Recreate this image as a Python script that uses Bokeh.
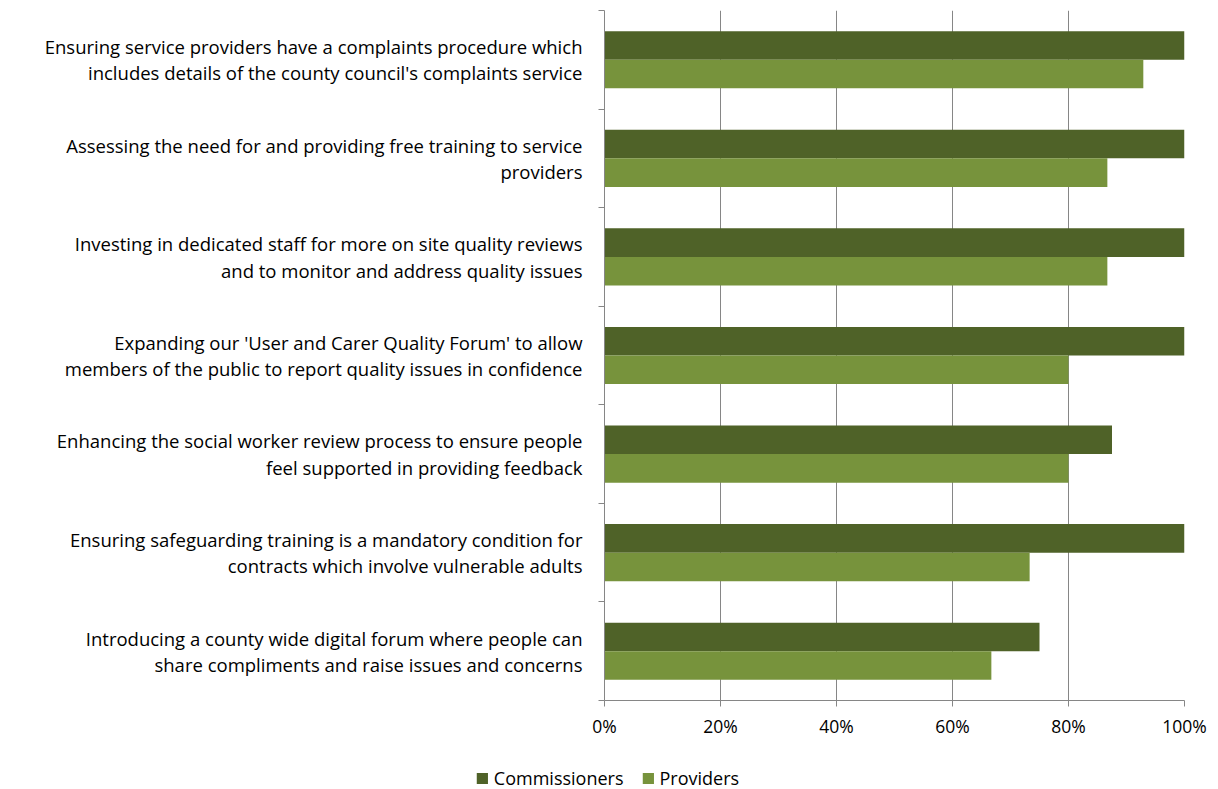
from bokeh.plotting import figure
from bokeh.models import (ColumnDataSource, Range1d, FixedTicker, NumeralTickFormatter,
                          LinearAxis, Legend, LegendItem)
from bokeh.layouts import column, row
from bokeh.transform import dodge
from bokeh.embed import file_html
from bokeh.resources import INLINE

categories = [
    "Ensuring service providers have a complaints procedure which\nincludes details of the county council's complaints service",
    "Assessing the need for and providing free training to service\nproviders",
    "Investing in dedicated staff for more on site quality reviews\nand to monitor and address quality issues",
    "Expanding our 'User and Carer Quality Forum' to allow\nmembers of the public to report quality issues in confidence",
    "Enhancing the social worker review process to ensure people\nfeel supported in providing feedback",
    "Ensuring safeguarding training is a mandatory condition for\ncontracts which involve vulnerable adults",
    "Introducing a county wide digital forum where people can\nshare compliments and raise issues and concerns",
]
commissioners = [1.0, 1.0, 1.0, 1.0, 0.875, 1.0, 0.75]
providers = [0.929, 0.867, 0.867, 0.80, 0.80, 0.733, 0.667]
x_ticks = [0, 0.2, 0.4, 0.6, 0.8, 1.0]
series_names = ["Commissioners", "Providers"]

FONT = "Open Sans"
DARK = "#4F6228"
LIGHT = "#77933C"
GRID = "#868686"

n = len(categories)
pos = [n - i - 0.5 for i in range(n)]
src = ColumnDataSource(dict(y=pos, c=commissioners, p=providers))

p = figure(frame_width=580, frame_height=690, output_backend="svg", toolbar_location=None,
           x_range=Range1d(0, 1), y_range=Range1d(0, n),
           min_border_left=604, min_border_right=30, min_border_top=10, min_border_bottom=0)
p.outline_line_color = None
p.background_fill_color = "white"

p.hbar(y=dodge("y", 0.145, range=p.y_range), left=0, right="c", height=0.29,
       source=src, fill_color=DARK, line_color=None)
p.hbar(y=dodge("y", -0.145, range=p.y_range), left=0, right="p", height=0.29,
       source=src, fill_color=LIGHT, line_color=None)

p.xaxis.ticker = FixedTicker(ticks=x_ticks)
p.xaxis.formatter = NumeralTickFormatter(format="0%")
p.xaxis.axis_line_color = GRID
p.xaxis.major_tick_line_color = GRID
p.xaxis.major_tick_out = 6
p.xaxis.major_tick_in = 0
p.xaxis.minor_tick_line_color = None
p.xaxis.major_label_text_font = FONT
p.xaxis.major_label_text_font_size = "17.5px"
p.xaxis.major_label_text_color = "black"
p.xaxis.major_label_standoff = 7

p.yaxis.ticker = FixedTicker(ticks=list(range(n + 1)))
p.yaxis.major_label_overrides = {i: "" for i in range(n + 1)}
p.yaxis.axis_line_color = GRID
p.yaxis.major_tick_line_color = GRID
p.yaxis.major_tick_out = 6
p.yaxis.major_tick_in = 0
p.yaxis.minor_tick_line_color = None
p.yaxis.major_label_standoff = 0

lab_axis = LinearAxis(ticker=FixedTicker(ticks=pos),
                      major_label_overrides={yy: t for yy, t in zip(pos, categories)},
                      axis_line_color=None, major_tick_line_color=None,
                      minor_tick_line_color=None, major_label_standoff=10,
                      major_label_text_font=FONT, major_label_text_font_size="18.5px",
                      major_label_text_color="black", major_label_text_line_height=1.05)
p.add_layout(lab_axis, "left")

p.xgrid.grid_line_color = GRID
p.xgrid.ticker = FixedTicker(ticks=x_ticks)
p.ygrid.grid_line_color = None

# legend strip below the chart (its bars lie entirely outside its visible ranges)
pl = figure(width=1214, height=50, output_backend="svg", toolbar_location=None,
            min_border=0, x_range=Range1d(-20, -19), y_range=Range1d(-20, -19))
pl.axis.visible = False
pl.grid.visible = False
pl.outline_line_color = None
lr1 = pl.hbar(y="y", left=0, right="c", height=0.29, source=src,
              fill_color=DARK, line_color=None)
lr2 = pl.hbar(y="y", left=0, right="p", height=0.29, source=src,
              fill_color=LIGHT, line_color=None)
legend = Legend(items=[LegendItem(label=series_names[0], renderers=[lr1]),
                       LegendItem(label=series_names[1], renderers=[lr2])],
                orientation="horizontal", location="bottom_center",
                label_text_font=FONT, label_text_font_size="18px",
                label_text_color="black",
                glyph_width=14, glyph_height=14, spacing=17, label_standoff=5,
                border_line_color=None, background_fill_alpha=0,
                padding=2, margin=0)
pl.add_layout(legend, "center")

open("out.html", "w").write(file_html(column(p, row(pl), spacing=0), INLINE))
